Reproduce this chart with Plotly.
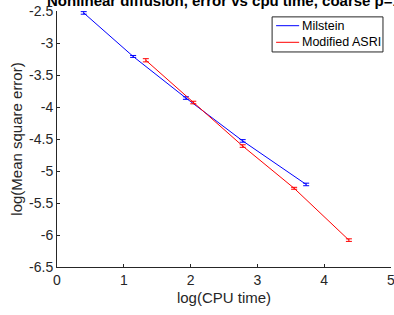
import plotly.graph_objects as go

mil_x = [0.40, 1.14, 1.93, 2.78, 3.73]
mil_y = [-2.53, -3.21, -3.86, -4.53, -5.21]
mil_err = [0.02, 0.015, 0.02, 0.02, 0.02]

asri_x = [1.33, 2.04, 2.78, 3.55, 4.37]
asri_y = [-3.27, -3.93, -4.61, -5.27, -6.08]
asri_err = [0.025, 0.02, 0.02, 0.015, 0.02]

x_ticks = [0, 1, 2, 3, 4, 5]
y_ticks = [-2.5, -3, -3.5, -4, -4.5, -5, -5.5, -6, -6.5]

series_names = ["Milstein", "Modified ASRI"]
series_colors = ["#0000ff", "#ff0000"]

title_text = "Nonlinear diffusion, error vs cpu time, coarse p=1"

fig = go.Figure()
for name, color, xs, ys, es in [
    (series_names[0], series_colors[0], mil_x, mil_y, mil_err),
    (series_names[1], series_colors[1], asri_x, asri_y, asri_err),
]:
    fig.add_trace(go.Scatter(
        x=xs, y=ys, mode="lines", name=name, showlegend=False,
        line=dict(color=color, width=1),
        error_y=dict(type="data", array=es, color=color, thickness=1, width=3),
    ))

axis_color = "#262626"
font_family = "Liberation Sans, Arial, Helvetica, sans-serif"

# custom legend box (paper coordinates)
shapes = [dict(type="rect", xref="paper", yref="paper",
               x0=0.644, x1=0.976, y0=0.840, y1=0.977,
               line=dict(color=axis_color, width=1), fillcolor="white", layer="above")]
annotations = []
legend_rows = [0.9426, 0.8777]
for name, color, yy in zip(series_names, series_colors, legend_rows):
    shapes.append(dict(type="line", xref="paper", yref="paper",
                       x0=0.656, x1=0.725, y0=yy, y1=yy,
                       line=dict(color=color, width=1), layer="above"))
    annotations.append(dict(text=name, xref="paper", yref="paper",
                            x=0.729, y=yy, xanchor="left", yanchor="middle",
                            showarrow=False, font=dict(size=12.5, color="black")))

annotations.append(dict(
    text="<b>" + title_text + "</b>", xref="paper", yref="paper",
    x=0.5, y=1.0, xanchor="center", yanchor="bottom", yshift=0,
    showarrow=False, font=dict(size=15, color="black"),
))

fig.update_layout(
    width=394, height=315,
    margin=dict(l=57, r=3, t=11, b=48),
    paper_bgcolor="white", plot_bgcolor="white",
    font=dict(family=font_family, size=14, color=axis_color),
    showlegend=False,
    shapes=shapes,
    annotations=annotations,
)
fig.update_xaxes(
    range=[0, 5], tickvals=x_ticks, ticktext=[str(v) for v in x_ticks],
    ticks="inside", ticklen=3, tickcolor=axis_color, showline=True,
    linecolor=axis_color, linewidth=1, showgrid=False, zeroline=False,
    title=dict(text="log(CPU time)", font=dict(size=15), standoff=5),
    tickfont=dict(size=14), automargin=False, ticklabeloverflow="allow",
)
fig.update_yaxes(
    range=[-6.5, -2.5], tickvals=y_ticks, ticktext=[str(v) for v in y_ticks],
    ticks="inside", ticklen=3, tickcolor=axis_color, showline=True,
    linecolor=axis_color, linewidth=1, showgrid=False, zeroline=False,
    title=dict(text="log(Mean square error)", font=dict(size=15), standoff=2),
    tickfont=dict(size=14), automargin=False, ticklabeloverflow="allow",
)

fig.write_html(
    "out.html",
    config={"displayModeBar": False},
    post_script="document.body.style.margin='0';document.body.style.padding='0';",
)
